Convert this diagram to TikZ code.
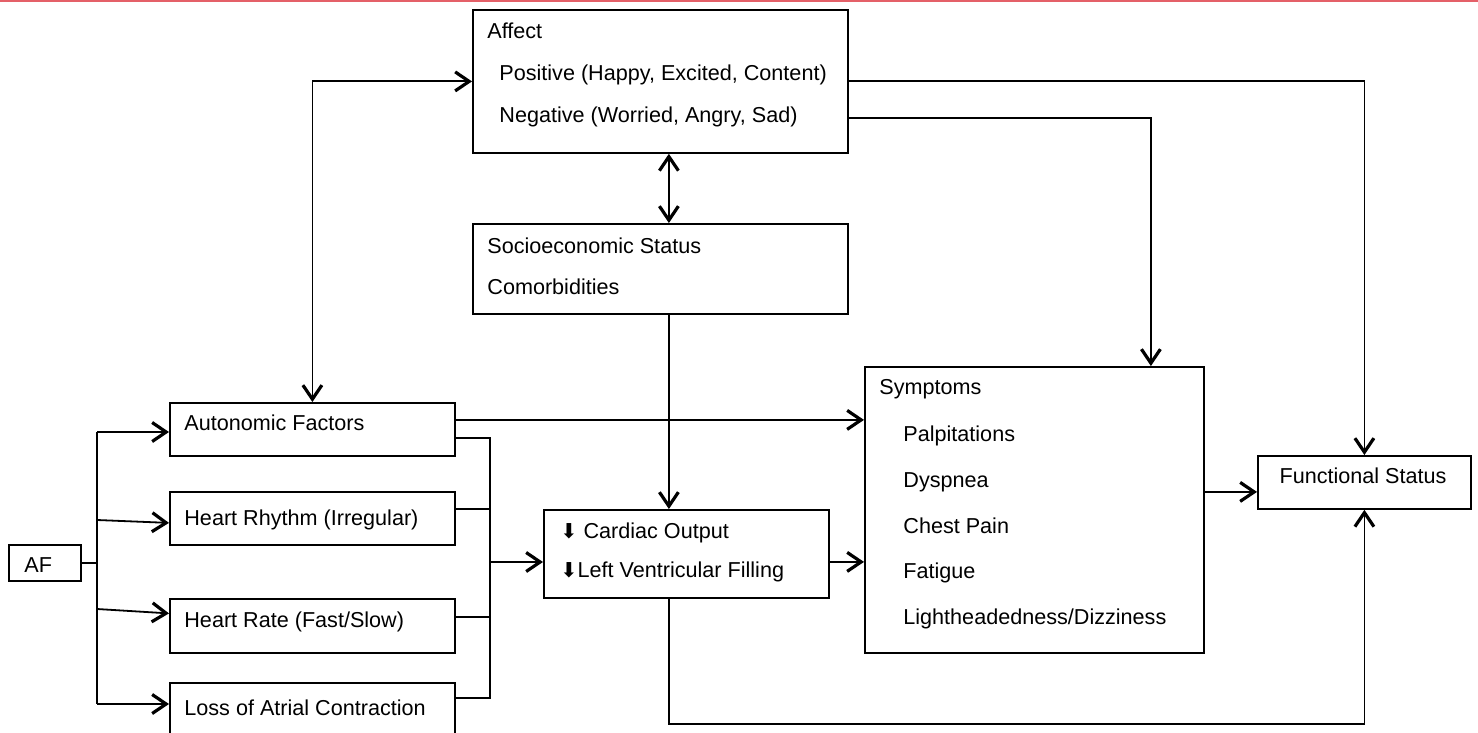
\documentclass[tikz,border=0pt]{standalone}
\usepackage{fontspec}
\setmainfont{Liberation Sans}
\newfontfamily\arrowfont[Scale=0.95]{DejaVu Sans}
\usetikzlibrary{arrows.meta,positioning,calc}
\definecolor{edgered}{RGB}{228,96,104}

\begin{document}
\begin{tikzpicture}[x=0.5pt, y=-0.5pt,
        >={Straight Barb[length=7pt,width=9.5pt,line width=1.6pt]},
        block/.style={rectangle, draw, line width=0.9pt, anchor=north west, inner sep=0pt},
        txt/.style={anchor=base west, inner sep=0pt, font=\fontsize{10.8}{13}\selectfont},
        link/.style={->, line width=0.9pt}]

        \useasboundingbox (0,0) rectangle (1478,733);
        \clip (0,0) rectangle (1478,733);
        \draw[edgered, line width=1pt] (0,1) -- (1478,1);

        % boxes
        \node[block, minimum width=187.5pt, minimum height=71.5pt] (affect) at (472,9) {};
        \node[block, minimum width=187.5pt, minimum height=45pt] (ses) at (472,223) {};
        \node[block, minimum width=142.5pt, minimum height=44pt] (cardiac) at (543,509) {};
        \node[block, minimum width=169.5pt, minimum height=143pt] (symptoms) at (864,366) {};
        \node[block, minimum width=106.5pt, minimum height=26.5pt] (functional) at (1257,455) {};
        \node[block, minimum width=36pt, minimum height=18pt] (af) at (8,544) {};
        \node[block, minimum width=142.5pt, minimum height=26.5pt] (auto) at (169,402) {};
        \node[block, minimum width=142.5pt, minimum height=26.5pt] (rhythm) at (169,491) {};
        \node[block, minimum width=142.5pt, minimum height=27pt] (rate) at (169,598) {};
        \node[block, minimum width=142.5pt, minimum height=30pt] (loss) at (169,682) {};

        % texts
        \node[txt] (affectT) at (487,39) {Affect};
        \node[txt] (posT) at (499,81) {Positive (Happy, Excited, Content)};
        \node[txt] (negT) at (499,123) {Negative (Worried, Angry, Sad)};
        \node[txt] (sesT) at (487,253) {Socioeconomic Status};
        \node[txt] (comT) at (487,294) {Comorbidities};
        \node[txt] (coT) at (560,538) {{\arrowfont ⬇} Cardiac Output};
        \node[txt] (lvT) at (560,577) {{\arrowfont ⬇}Left Ventricular Filling};
        \node[txt] (symT) at (879,394) {Symptoms};
        \foreach \y/\s [count=\i] in {441/Palpitations, 487/Dyspnea, 533/Chest Pain,
                578/Fatigue, 624/Lightheadedness\slash Dizziness}
            \node[txt] (sym\i) at (903,\y) {\s};
        \node[txt, anchor=base] (funcT) at (1363,483) {Functional Status};
        \node[txt] (afT) at (24,572) {AF};
        \node[txt] (autoT) at (184,430) {Autonomic Factors};
        \node[txt] (rhythmT) at (184,525) {Heart Rhythm (Irregular)};
        \node[txt] (rateT) at (184,627) {Heart Rate (Fast/Slow)};
        \node[txt] (lossT) at (184,715) {Loss of Atrial Contraction};

        % AF fan-out
        \coordinate (busA) at (97,432);
        \coordinate (busB) at (97,520);
        \coordinate (busC) at (97,609);
        \coordinate (busD) at (97,704);
        \draw[line width=0.9pt] (af.east) -- (af.east -| busA);
        \draw[line width=0.9pt] (busA) -- (busD);
        \draw[link] (busA) -- (busA -| auto.west);
        \draw[link] (busB) -- ($(rhythm.west)+(0,4.5)$);
        \draw[link] (busC) -- ($(rate.west)+(0,-12.5)$);
        \draw[link] (busD) -- (busD -| loss.west);

        % fan-in to cardiac
        \coordinate (rTop) at (490,438);
        \coordinate (rBot) at (490,698);
        \coordinate (busR) at (490,562);
        \draw[line width=0.9pt] (rTop -| auto.east) -- (rTop) -- (rBot) -- (rBot -| loss.east);
        \draw[line width=0.9pt] ($(rhythm.east)+(0,-9.5)$) -- ++(35,0);
        \draw[line width=0.9pt] ($(rate.east)+(0,-9)$) -- ++(35,0);
        \draw[link] (busR) -- (busR -| cardiac.west);

        % upper part
        \coordinate (autoOut) at ($(auto.east)+(0,-9.5)$);
        \coordinate (sesX) at ($(ses.south)+(8.5,0)$);
        \coordinate (cardOut) at ($(cardiac.east)+(0,8)$);
        \coordinate (funcIn) at ($(functional.west)+(0,9.5)$);
        \draw[link, <->] (affect.west) -| (auto.north);
        \draw[link, <->] ($(affect.south)+(8.5,0)$) -- ($(ses.north)+(8.5,0)$);
        \draw[link] (sesX) -- (sesX |- cardiac.north);
        \draw[link] (autoOut) -- (autoOut -| symptoms.west);
        \draw[link] (cardOut) -- (cardOut -| symptoms.west);
        \draw[link] (affect.east) -| (functional.north);
        \draw[link] ($(affect.east)+(0,36.5)$) -| ($(symptoms.north)+(116.5,0)$);
        \draw[link] (funcIn -| symptoms.east) -- (funcIn);
        \draw[link] (cardiac.south -| sesX) -- ++(0,125) -| (functional.south);
    \end{tikzpicture}
\end{document}
